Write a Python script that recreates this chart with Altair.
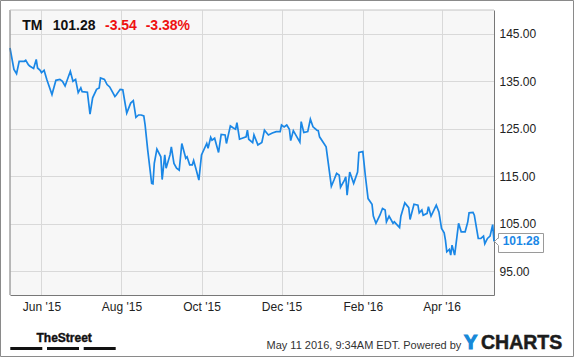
import altair as alt
import pandas as pd

# ---------------- data ----------------
dates = [
    "2015-05-08", "2015-05-11", "2015-05-13", "2015-05-15", "2015-05-19", "2015-05-20",
    "2015-05-22", "2015-05-23", "2015-05-26", "2015-05-28", "2015-05-29", "2015-05-31",
    "2015-06-01", "2015-06-03", "2015-06-05", "2015-06-09", "2015-06-12", "2015-06-15",
    "2015-06-17", "2015-06-19", "2015-06-23", "2015-06-25", "2015-06-27", "2015-06-29",
    "2015-07-01", "2015-07-02", "2015-07-06", "2015-07-08", "2015-07-10", "2015-07-13",
    "2015-07-15", "2015-07-16", "2015-07-19", "2015-07-21", "2015-07-23", "2015-07-27",
    "2015-07-28", "2015-07-31", "2015-08-02", "2015-08-05", "2015-08-08", "2015-08-10",
    "2015-08-12", "2015-08-14", "2015-08-16", "2015-08-18", "2015-08-19", "2015-08-21",
    "2015-08-24", "2015-08-25", "2015-08-26", "2015-08-28", "2015-08-31", "2015-09-01",
    "2015-09-03", "2015-09-04", "2015-09-07", "2015-09-08", "2015-09-10", "2015-09-12",
    "2015-09-14", "2015-09-16", "2015-09-19", "2015-09-20", "2015-09-22", "2015-09-24",
    "2015-09-25", "2015-09-27", "2015-09-29", "2015-10-01", "2015-10-05", "2015-10-06",
    "2015-10-08", "2015-10-09", "2015-10-11", "2015-10-14", "2015-10-16", "2015-10-19",
    "2015-10-20", "2015-10-23", "2015-10-25", "2015-10-27", "2015-10-28", "2015-10-30",
    "2015-11-01", "2015-11-04", "2015-11-05", "2015-11-06", "2015-11-09", "2015-11-10",
    "2015-11-13", "2015-11-16", "2015-11-18", "2015-11-21", "2015-11-24", "2015-11-27",
    "2015-11-30", "2015-12-01", "2015-12-03", "2015-12-05", "2015-12-07", "2015-12-08",
    "2015-12-10", "2015-12-15", "2015-12-16", "2015-12-18", "2015-12-21", "2015-12-23",
    "2015-12-25", "2015-12-28", "2015-12-29", "2015-12-30", "2016-01-04", "2016-01-08",
    "2016-01-10", "2016-01-12", "2016-01-14", "2016-01-15", "2016-01-18", "2016-01-19",
    "2016-01-20", "2016-01-22", "2016-01-25", "2016-01-28", "2016-01-29", "2016-02-01",
    "2016-02-03", "2016-02-05", "2016-02-08", "2016-02-09", "2016-02-11", "2016-02-14",
    "2016-02-16", "2016-02-18", "2016-02-19", "2016-02-21", "2016-02-24", "2016-02-25",
    "2016-02-29", "2016-03-01", "2016-03-04", "2016-03-07", "2016-03-08", "2016-03-11",
    "2016-03-14", "2016-03-15", "2016-03-17", "2016-03-18", "2016-03-21", "2016-03-22",
    "2016-03-24", "2016-03-28", "2016-03-30", "2016-04-01", "2016-04-03", "2016-04-04",
    "2016-04-05", "2016-04-07", "2016-04-08", "2016-04-09", "2016-04-11", "2016-04-14",
    "2016-04-16", "2016-04-19", "2016-04-21", "2016-04-22", "2016-04-25", "2016-04-26",
    "2016-04-29", "2016-05-01", "2016-05-03", "2016-05-04", "2016-05-06", "2016-05-08",
    "2016-05-10", "2016-05-11",
]
prices = [
    142.0, 137.5, 136.6, 139.2, 139.2, 139.4,
    138.5, 138.2, 137.7, 139.6, 137.8, 137.3,
    136.8, 137.3, 135.4, 132.2, 135.2, 135.4,
    135.0, 134.0, 137.1, 135.0, 135.4, 132.6,
    133.6, 132.8, 132.7, 128.1, 131.5, 133.3,
    133.6, 135.7, 135.4, 134.3, 133.8, 131.8,
    132.1, 133.3, 133.2, 128.3, 130.4, 130.9,
    127.4, 127.9, 127.9, 127.7, 125.8, 120.5,
    113.5, 113.4, 117.7, 120.7, 119.1, 114.3,
    119.5, 116.7, 119.5, 121.2, 117.7, 116.7,
    116.3, 121.9, 118.8, 119.1, 117.4, 117.4,
    118.3, 116.3, 114.2, 119.5, 121.9, 120.9,
    123.2, 122.6, 123.0, 120.0, 123.8, 123.7,
    121.9, 125.6, 125.2, 124.9, 126.3, 122.8,
    123.0, 123.3, 124.7, 122.8, 122.1, 123.7,
    121.6, 122.1, 124.7, 123.7, 124.1, 124.4,
    124.4, 125.8, 125.4, 125.8, 124.9, 122.5,
    124.6, 122.2, 126.5, 124.2, 124.4, 127.0,
    125.4, 124.7, 124.6, 123.3, 121.2, 112.9,
    114.2, 115.6, 115.2, 112.7, 114.2, 114.9,
    111.0, 115.9, 113.5, 115.9, 120.0, 120.2,
    114.9, 110.3, 109.1, 106.6, 105.1, 106.8,
    108.2, 107.9, 105.4, 106.6, 105.1, 105.4,
    104.2, 106.6, 109.4, 108.4, 105.9, 109.1,
    108.9, 107.3, 107.9, 106.8, 107.2, 108.6,
    106.6, 108.9, 107.5, 104.0, 103.1, 101.5,
    99.1, 99.6, 98.4, 100.5, 98.4, 105.1,
    103.3, 103.3, 105.4, 107.3, 107.4, 106.8,
    101.9, 101.9, 102.4, 100.8, 101.9, 102.4,
    104.82, 101.28,
]

ticker = "TM"
last_price = "101.28"
change = "-3.54"
change_pct = "-3.38%"
last_value = 101.28
y_ticks = [95, 105, 115, 125, 135, 145]
x_tick_months = [(2015, 6), (2015, 8), (2015, 10), (2015, 12), (2016, 2), (2016, 4)]
footer_time = "May 11 2016, 9:34AM EDT. Powered by"
brand_left = "TheStreet"
logo_y = "Y"
logo_rest = "CHARTS"

df = pd.DataFrame({"date": pd.to_datetime(dates), "price": prices})

# ---------------- style ----------------
BLUE = "#1a87e6"
RED = "#ee1111"
FONT = "Liberation Sans"
W, H = 484, 285
PL, PT = 10, 10  # plot origin in the page


def one():
    return alt.Data(values=[{"a": 1}])


def px(v, origin):
    return v - origin


x_scale = alt.Scale(domain=[alt.DateTime(year=2015, month=5, date=8),
                            alt.DateTime(year=2016, month=5, date=11)])
y_scale = alt.Scale(domain=[90, 150], nice=False, zero=False)

x_axis = alt.Axis(
    values=[alt.DateTime(year=y, month=m, date=1) for y, m in x_tick_months],
    format="%b '%y", labelFont=FONT, labelFontSize=12, labelColor="#222",
    labelPadding=6, ticks=False, domainColor="#777", domainWidth=1,
    grid=True, gridColor="#d9d9d9", gridWidth=1, labelAngle=0,
    labelFlush=False, labelOverlap=False, title=None,
)
y_axis = alt.Axis(
    orient="right", values=y_ticks, format=".2f", labelFont=FONT,
    labelFontSize=12, labelColor="#222", labelPadding=5, ticks=False,
    domainColor="#777", domainWidth=1, grid=True, gridColor="#d9d9d9",
    gridWidth=1, labelBaseline="middle", title=None,
)

line = alt.Chart(df).mark_line(color=BLUE, strokeWidth=1.7).encode(
    x=alt.X("date:T", scale=x_scale, axis=x_axis),
    y=alt.Y("price:Q", scale=y_scale, axis=y_axis),
)

layers = [line]

# plot borders (left dark, top light)
layers.append(alt.Chart(one()).mark_rule(color="#777", strokeWidth=1).encode(
    x=alt.value(0), y=alt.value(0), y2=alt.value(H)))
layers.append(alt.Chart(one()).mark_rule(color="#c4c4c4", strokeWidth=1).encode(
    x=alt.value(0), x2=alt.value(W), y=alt.value(0)))

# header texts
header = [(ticker, 22.3, "#111"), (last_price, 52.7, "#111"),
          (change, 105.0, RED), (change_pct, 145.7, RED)]
for txt, xa, col in header:
    layers.append(alt.Chart(one()).mark_text(
        text=txt, font=FONT, fontSize=14, fontWeight="bold", color=col,
        align="left", baseline="alphabetic").encode(
        x=alt.value(px(xa, PL)), y=alt.value(px(29.5, PT))))

# last value label box + pointer
layers.append(alt.Chart(one()).mark_rect(fill="white", stroke="#9a9a9a", strokeWidth=1).encode(
    x=alt.value(px(498.5, PL)), x2=alt.value(px(543.5, PL)),
    y=alt.value(px(233.5, PT)), y2=alt.value(px(252.5, PT))))
layers.append(alt.Chart(one()).mark_rule(color="white", strokeWidth=1.5).encode(
    x=alt.value(px(498.5, PL)), y=alt.value(px(238.5, PT)), y2=alt.value(px(245.5, PT))))
layers.append(alt.Chart(one()).mark_rule(color="#9a9a9a", strokeWidth=1).encode(
    x=alt.value(px(498.5, PL)), y=alt.value(px(237.5, PT)),
    x2=alt.value(px(494.5, PL)), y2=alt.value(px(241.5, PT))))
layers.append(alt.Chart(one()).mark_rule(color="#9a9a9a", strokeWidth=1).encode(
    x=alt.value(px(494.5, PL)), y=alt.value(px(241.5, PT)),
    x2=alt.value(px(498.5, PL)), y2=alt.value(px(245.5, PT))))
last_df = pd.DataFrame({"price": [last_value], "label": [last_price]})
layers.append(alt.Chart(last_df).mark_text(
    font=FONT, fontSize=12, fontWeight="bold", color=BLUE,
    align="center", baseline="middle").encode(
    x=alt.value(px(521.0, PL)),
    y=alt.Y("price:Q", scale=y_scale),
    text="label:N"))

# footer: TheStreet logo
layers.append(alt.Chart(one()).mark_text(
    text=brand_left, font=FONT,
    fontSize=12, fontWeight="bold", color="#111", align="left",
    baseline="alphabetic", stroke="#111", strokeWidth=0.4).encode(
    x=alt.value(px(36.5, PL)), y=alt.value(px(342.0, PT))))
for x0, x1 in [(10.3, 42.3), (47.0, 79.0), (83.7, 115.7)]:
    layers.append(alt.Chart(one()).mark_rect(fill="#111").encode(
        x=alt.value(px(x0, PL)), x2=alt.value(px(x1, PL)),
        y=alt.value(px(347, PT)), y2=alt.value(px(350, PT))))

# footer: timestamp and YCHARTS
layers.append(alt.Chart(one()).mark_text(
    text=footer_time, font=FONT, fontSize=11, color="#333", align="left",
    baseline="alphabetic").encode(x=alt.value(px(266.5, PL)), y=alt.value(px(348.5, PT))))
layers.append(alt.Chart(one()).mark_text(
    text=logo_y, font=FONT, fontSize=20, fontWeight="bold", color="#1689d8",
    stroke="#1689d8", strokeWidth=1.2,
    align="left", baseline="alphabetic").encode(
    x=alt.value(px(464.0, PL)), y=alt.value(px(348.5, PT))))
layers.append(alt.Chart(one()).mark_text(
    text=logo_rest, font=FONT, fontSize=19.5, fontWeight="bold", color="#1c1c1c",
    stroke="#1c1c1c", strokeWidth=0.5,
    align="left", baseline="alphabetic").encode(
    x=alt.value(px(481.0, PL)), y=alt.value(px(348.5, PT))))

# outer border
layers.append(alt.Chart(one()).mark_rect(fillOpacity=0, stroke="#8a8a8a", strokeWidth=1).encode(
    x=alt.value(px(0.5, PL)), x2=alt.value(px(573.5, PL)),
    y=alt.value(px(0.5, PT)), y2=alt.value(px(356.5, PT))))

chart = alt.layer(*layers).properties(
    width=W, height=H,
    padding={"left": PL, "top": PT, "right": 575 - PL - W, "bottom": 358 - PT - H},
    autosize=alt.AutoSizeParams(type="none"),
    background="white",
).configure_view(fill="#f7f7f7", stroke=None)

chart.save("out.html", embed_options={"renderer": "svg", "actions": False})
